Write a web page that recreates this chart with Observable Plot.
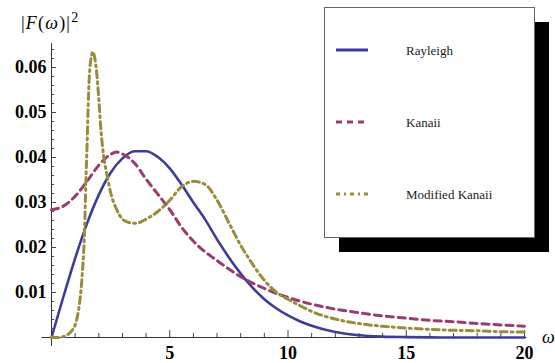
<!DOCTYPE html>
<html>
<head>
<meta charset="utf-8">
<script src="https://cdn.jsdelivr.net/npm/d3@7"></script>
<script src="https://cdn.jsdelivr.net/npm/@observablehq/plot@0.6"></script>
<style>
  html, body { margin: 0; padding: 0; background: #fff; }
  #chart { width: 555px; height: 363px; overflow: hidden; }
</style>
</head>
<body>
<div id="chart"></div>
<script>
// ---------- data ----------
const rayleighX = [0,0.5,1,1.5,2,2.5,3,3.5,4,4.5,5,5.5,6,6.5,7,7.5,8,8.5,9,9.5,10,10.5,11,12,13,14,15,16,17,18,19,20];
const rayleighY = [0,0.0090,0.0176,0.0253,0.0317,0.0366,0.0398,0.0414,0.0414,0.0401,0.0376,0.0340,0.0300,0.0262,0.0218,0.0178,0.0142,0.0111,0.0085,0.0065,0.0049,0.0036,0.0026,0.0012,0.0005,0.0002,0.00008,0.00002,0,0,0,0];

const kanaiiX = [0,0.5,1,1.5,2,2.5,2.75,3,3.5,4,4.5,5,5.5,6,6.5,7,7.5,8,8.5,9,9.5,10,11,12,13,14,15,16,17,18,19,20];
const kanaiiY = [0.0284,0.0292,0.0314,0.0347,0.0383,0.0407,0.0412,0.0408,0.0388,0.0352,0.0318,0.0284,0.0245,0.0214,0.0190,0.0171,0.0152,0.0135,0.0121,0.0109,0.0098,0.0089,0.0074,0.0063,0.0055,0.0048,0.0043,0.0038,0.0035,0.0031,0.0028,0.0025];

const modKanaiiX = [0,0.3,0.5,0.7,0.9,1.0,1.1,1.2,1.3,1.4,1.45,1.5,1.55,1.6,1.7,1.75,1.8,1.9,2.0,2.1,2.2,2.35,2.5,2.75,3.0,3.25,3.5,3.75,4.0,4.5,5.0,5.5,6.0,6.5,7.0,7.5,8.0,8.5,9.0,9.5,10,10.5,11,12,13,14,15,16,17,18,19,20];
const modKanaiiY = [0,0,0.0002,0.0007,0.0018,0.0028,0.0048,0.0082,0.0140,0.0240,0.0340,0.0420,0.0510,0.0580,0.0628,0.0635,0.0628,0.0595,0.0530,0.0455,0.0405,0.0360,0.0322,0.0285,0.0263,0.0256,0.0254,0.0256,0.0263,0.0280,0.0305,0.0335,0.0347,0.0340,0.0305,0.0255,0.0205,0.0163,0.0127,0.0101,0.0085,0.0071,0.0058,0.0041,0.0031,0.0025,0.0021,0.0018,0.0016,0.0015,0.0013,0.0012];

const seriesNames = ["Rayleigh", "Kanaii", "Modified Kanaii"];
const seriesColors = ["#3d3d99", "#993d71", "#998c3d"];
const seriesDash = [null, "7,5", "7,4,2,4"];
const legendDash = [null, "6,5", "4,4,2,4"];

const xMajorTicks = [5, 10, 15, 20];
const xMinorTicks = [1,2,3,4,6,7,8,9,11,12,13,14,16,17,18,19];
const yMajorTicks = [0.01, 0.02, 0.03, 0.04, 0.05, 0.06];
const yMinorTicks = [0.002,0.004,0.006,0.008,0.012,0.014,0.016,0.018,0.022,0.024,0.026,0.028,0.032,0.034,0.036,0.038,0.042,0.044,0.046,0.048,0.052,0.054,0.056,0.058,0.062,0.064];
const yTickLabels = ["0.01","0.02","0.03","0.04","0.05","0.06"];
const xTickLabels = ["5","10","15","20"];
const xAxisExtent = [-0.4, 20.1];
const yAxisExtent = [-0.002, 0.0653];

// ---------- build tidy table ----------
const table = [];
[[rayleighX, rayleighY], [kanaiiX, kanaiiY], [modKanaiiX, modKanaiiY]].forEach(([xs, ys], s) => {
  xs.forEach((x, i) => table.push({series: seriesNames[s], x, y: ys[i]}));
});

const serif = "'Liberation Serif', 'Times New Roman', serif";

const lineMarks = seriesNames.map((name, s) =>
  Plot.line(table.filter(d => d.series === name), {
    x: "x", y: "y",
    stroke: seriesColors[s],
    strokeWidth: s === 0 ? 2.6 : 3,
    strokeDasharray: seriesDash[s] || undefined,
    curve: "monotone-x"
  })
);

const chart = Plot.plot({
  width: 555,
  height: 363,
  marginLeft: 51,
  marginRight: 31,
  marginTop: 44.5,
  marginBottom: 26,
  x: {domain: [0, 20], axis: null},
  y: {domain: [0, 0.065], axis: null},
  style: {background: "white", overflow: "visible", fontFamily: serif},
  marks: [
    // axis lines
    Plot.ruleY([0], {x1: xAxisExtent[0], x2: xAxisExtent[1], stroke: "#333", strokeWidth: 1}),
    Plot.ruleX([0], {y1: yAxisExtent[0], y2: yAxisExtent[1], stroke: "#333", strokeWidth: 1}),
    // x ticks (inward)
    Plot.ruleX(xMinorTicks, {x: d => d, y1: 0, y2: 0, insetTop: -4, stroke: "#444"}),
    Plot.ruleX(xMajorTicks, {x: d => d, y1: 0, y2: 0, insetTop: -7, stroke: "#444"}),
    // y ticks (inward)
    Plot.ruleY(yMinorTicks, {y: d => d, x1: 0, x2: 0, insetRight: -3, stroke: "#444"}),
    Plot.ruleY(yMajorTicks, {y: d => d, x1: 0, x2: 0, insetRight: -5, stroke: "#444"}),
    // tick labels
    Plot.text(yMajorTicks, {x: 0, y: d => d, text: (d, i) => yTickLabels[i], dx: -5, textAnchor: "end",
      fontSize: 18, fontWeight: "bold", fontFamily: serif, fill: "#000"}),
    Plot.text(xMajorTicks, {x: d => d, y: 0, text: (d, i) => xTickLabels[i], dy: 16,
      fontSize: 18, fontWeight: "bold", fontFamily: serif, fill: "#000"}),
    ...lineMarks
  ]
});

document.getElementById("chart").appendChild(chart);

// ---------- annotations & legend ----------
const svg = d3.select(chart);

// y label |F(ω)|²
const yl = svg.append("text")
  .attr("x", 21).attr("y", 29)
  .attr("text-anchor", "start")
  .style("font-family", serif).style("font-size", "18px").style("letter-spacing", "1.2px").attr("fill", "#000");
yl.append("tspan").text("|");
yl.append("tspan").style("font-style", "italic").text("F");
yl.append("tspan").text("(");
yl.append("tspan").style("font-style", "italic").text("ω");
yl.append("tspan").text(")|");
yl.append("tspan").style("font-size", "14px").attr("dy", -7).text("2");

// x label ω
svg.append("text")
  .attr("x", 542).attr("y", 343)
  .attr("text-anchor", "start")
  .style("font-family", serif).style("font-size", "18px").style("font-style", "italic")
  .attr("fill", "#000").text("ω");

// legend
const lg = svg.append("g");
lg.append("rect").attr("x", 339).attr("y", 22).attr("width", 210).attr("height", 230).attr("fill", "#000");
lg.append("rect").attr("x", 324.5).attr("y", 7.5).attr("width", 210).attr("height", 230)
  .attr("fill", "#fff").attr("stroke", "#666").attr("stroke-width", 1);
const legendY = [50, 122, 194];
seriesNames.forEach((name, s) => {
  lg.append("line")
    .attr("x1", 336).attr("x2", 368).attr("y1", legendY[s]).attr("y2", legendY[s])
    .attr("stroke", seriesColors[s]).attr("stroke-width", 3)
    .attr("stroke-dasharray", legendDash[s]);
  lg.append("text")
    .attr("x", 406).attr("y", legendY[s] + 4.5)
    .attr("text-anchor", "start")
    .style("font-family", serif).style("font-size", "13px").attr("fill", "#222")
    .text(name);
});
</script>
</body>
</html>
